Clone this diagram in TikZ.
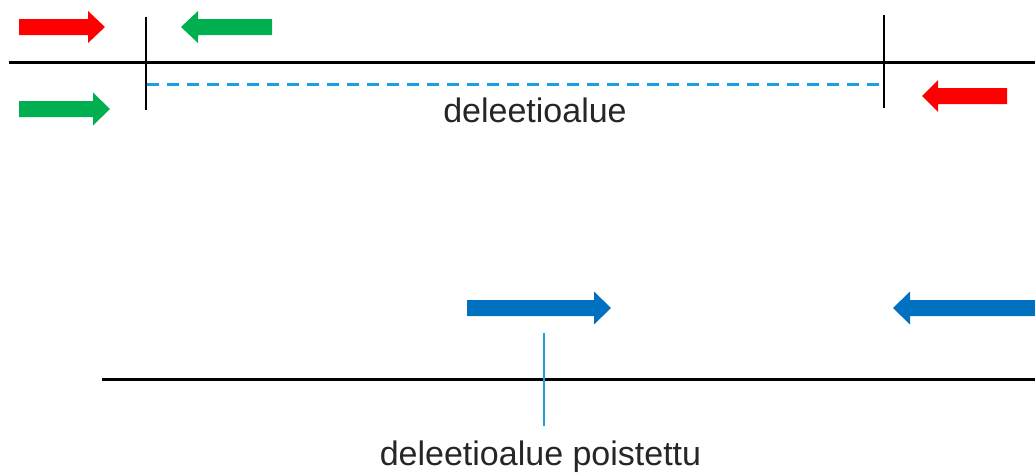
\documentclass[tikz,border=0pt]{standalone}
\usepackage{fontspec}
\setmainfont{Liberation Sans}
\definecolor{arrred}{RGB}{255,0,0}
\definecolor{arrgreen}{RGB}{0,176,80}
\definecolor{arrblue}{RGB}{0,112,192}
\definecolor{lightblue}{RGB}{27,161,226}
\definecolor{txt}{RGB}{38,38,38}
\newcommand\blockarrow[7]{% color, tail x, head base x, tip x, y, half shaft, half head
  \fill[#1] (#2,#5-#6) -- (#3,#5-#6) -- (#3,#5-#7) -- (#4,#5) -- (#3,#5+#7) -- (#3,#5+#6) -- (#2,#5+#6) -- cycle;}
\tikzset{
  dnaline/.style={draw=black, line width=3pt},
  tickline/.style={draw=black, line width=2.8pt},
  regionline/.style={draw=lightblue, line width=3pt, dash pattern=on 12pt off 8pt},
  lbl/.style={font=\fontsize{34}{40}\selectfont, text=txt, inner sep=0pt, anchor=base},
}
\begin{document}
\begin{tikzpicture}[x=1pt,y=-1pt]
\useasboundingbox (0,0) rectangle (1035,475);
% top
\coordinate (tl) at (9,62);
\coordinate (tr) at (1035,62);
\coordinate (k1t) at (146,17);
\coordinate (k1b) at (146,110);
\coordinate (k2t) at (884,15);
\coordinate (k2b) at (884,108);
\coordinate (d1) at (147,84);
\coordinate (d2) at (882,84);
\draw[dnaline] (tl) -- (tr);
\draw[tickline] (k1t) -- (k1b);
\draw[tickline] (k2t) -- (k2b);
\draw[regionline] (d1) -- (d2);
\node[lbl] (lab1) at (535,122) {deleetioalue};
\blockarrow{arrred}{19}{88}{105}{27}{8}{16}
\blockarrow{arrgreen}{272}{198}{181}{27}{8}{16}
\blockarrow{arrgreen}{19}{93}{110}{109}{8}{16.5}
\blockarrow{arrred}{1007}{938}{922}{96}{8}{16}
% bottom
\coordinate (bl) at (102,379);
\coordinate (br) at (1035,379);
\coordinate (mt) at (544,333);
\coordinate (mb) at (544,426);
\draw[dnaline] (bl) -- (br);
\draw[draw=lightblue, line width=2.6pt] (mt) -- (mb);
\node[lbl] (lab2) at (540.5,465) {deleetioalue poistettu};
\blockarrow{arrblue}{467}{594}{611}{308}{8}{16.5}
\blockarrow{arrblue}{1036}{910}{893}{308}{8}{16.5}
\end{tikzpicture}
\end{document}
